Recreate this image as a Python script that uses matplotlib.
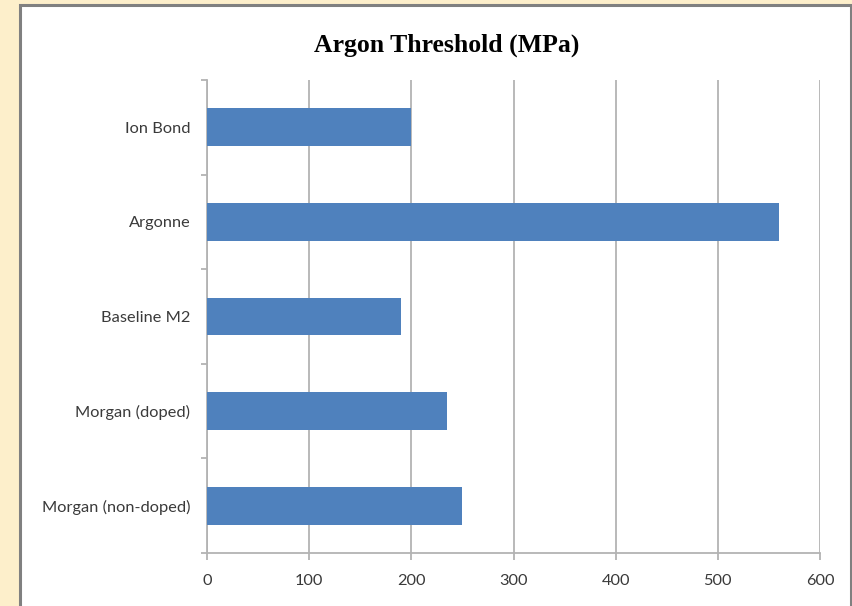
import numpy as np
import matplotlib.pyplot as plt
from matplotlib.patches import Rectangle

# data
categories = ['Ion Bond', 'Argonne', 'Baseline M2', 'Morgan (doped)', 'Morgan (non-doped)']
threshold = [200, 560, 190, 235, 250]
x_ticks = [0, 100, 200, 300, 400, 500, 600]

BAR = '#4F81BD'
GRID = '#B3B3B3'

fig = plt.figure(figsize=(8.52, 6.06), dpi=100)
fig.patch.set_facecolor('#FDEFCB')
W, H = 852, 606

# white chart panel with grey border, in a background axes
bg = fig.add_axes([0, 0, 1, 1], zorder=-1)
bg.set_xlim(0, W)
bg.set_ylim(H, 0)
bg.axis('off')
bg.add_patch(Rectangle((19.5, 5), 831, 620, facecolor='white',
                       edgecolor='#808080', linewidth=2.2))

ax = fig.add_axes([207 / W, 53 / H, (820 - 207) / W, (553 - 80) / H])
ax.set_facecolor('white')

y = np.arange(len(categories))
ax.barh(y, threshold, height=0.4, color=BAR, zorder=3)

ax.set_ylim(len(categories) - 0.5, -0.5)
ax.set_xlim(0, 600)
ax.set_xticks(x_ticks)
ax.set_xticklabels([str(t) for t in x_ticks])
ax.set_yticks(y)
ax.set_yticklabels(categories)
ax.set_yticks(np.arange(-0.5, len(categories), 1), minor=True)

ax.grid(axis='x', color=GRID, linewidth=1.3, zorder=0)
for s in ['top', 'right']:
    ax.spines[s].set_visible(False)
for s in ['left', 'bottom']:
    ax.spines[s].set_color(GRID)
    ax.spines[s].set_linewidth(1.3)

ax.tick_params(axis='y', which='major', length=0, pad=12, labelsize=11.8, labelcolor='#3A3A3A')
ax.tick_params(axis='y', which='minor', length=4, color=GRID, width=1.3)
ax.tick_params(axis='x', length=5, color=GRID, width=1.3, pad=10, labelsize=11.8, labelcolor='#3A3A3A')
for lab in ax.get_xticklabels() + ax.get_yticklabels():
    lab.set_family(['Lato', 'DejaVu Sans'])

fig.text(447 / W, 1 - 45 / H, 'Argon Threshold (MPa)', ha='center', va='center',
         family=['Liberation Serif', 'DejaVu Serif'], fontweight='bold', fontsize=18.5)

fig.savefig('out.png', dpi=100, facecolor=fig.get_facecolor())
